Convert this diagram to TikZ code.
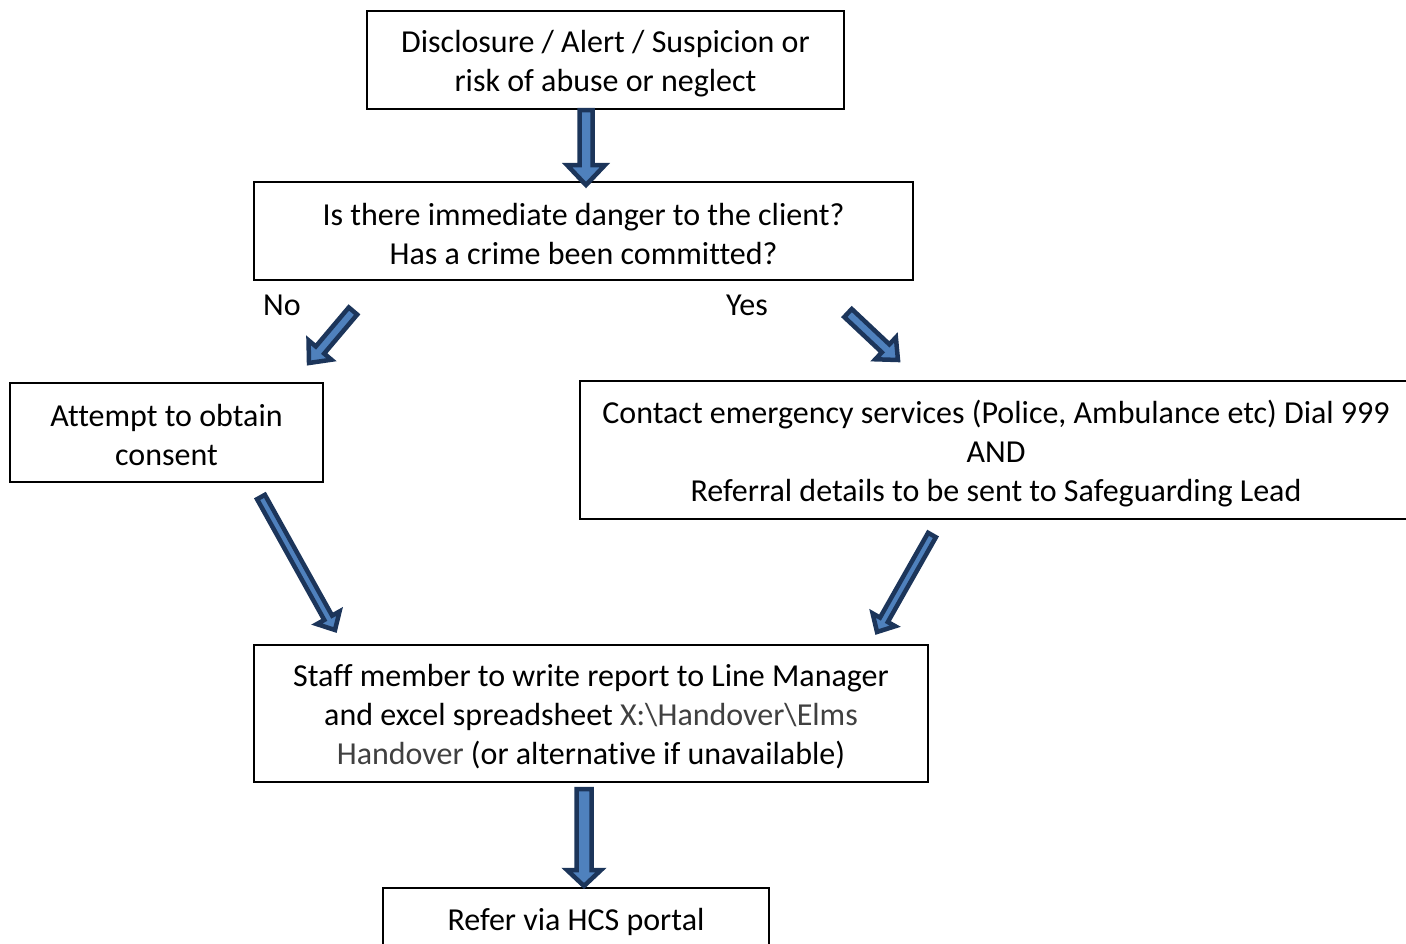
\documentclass[tikz,border=0pt]{standalone}
\usepackage{fontspec}
\setmainfont{Carlito}[Ligatures={NoCommon}]
\usetikzlibrary{calc}
\definecolor{arrline}{HTML}{1C355A}
\definecolor{arrfill}{HTML}{4F81BD}
\definecolor{pathgray}{HTML}{404040}
\tikzset{
  box/.style={draw, line width=1.5pt, inner sep=0pt},
  txt/.style={align=center, inner sep=0pt, font=\fontsize{32}{39}\selectfont},
  lbl/.style={inner sep=0pt, font=\fontsize{32}{39}\selectfont},
  blockarrow/.style={draw=arrline, fill=arrfill, line width=4.5pt, line join=miter}
}
\newcommand\blockarr[5]{%
  \path (#1); \pgfgetlastxy{\bax}{\bay}%
  \path (#2); \pgfgetlastxy{\bbx}{\bby}%
  \pgfmathsetmacro\bang{atan2(\bby-\bay,\bbx-\bax)}%
  \pgfmathsetmacro\blen{veclen(\bbx-\bax,\bby-\bay)}%
  \pgfmathsetmacro\bsh{\blen-#5}%
  \draw[blockarrow,shift={(\bax,\bay)},rotate=\bang]
    (0pt,-#3pt) -- (\bsh pt,-#3pt) -- (\bsh pt,-#4pt) -- (\blen pt,0pt)
    -- (\bsh pt,#4pt) -- (\bsh pt,#3pt) -- (0pt,#3pt) -- cycle;
}
\begin{document}
\begin{tikzpicture}[x=1pt,y=-1pt]
\useasboundingbox (0,0) rectangle (1406,943);
\clip (0,0) rectangle (1406,943);

\node[box, minimum width=477pt, minimum height=98pt] (n1) at (605.5,60) {};
\node[txt] (n1t) at (605.5,64)
  {Disclosure / Alert / Suspicion or\\risk of abuse or neglect};
\node[box, minimum width=659pt, minimum height=98pt] (n2) at (583.5,231) {};
\node[txt] (n2t) at (583.5,234)
  {Is there immediate danger to the client?\\Has a crime been committed?};
\node[box, minimum width=313pt, minimum height=99pt] (n3) at (166.5,432.5) {};
\node[txt] (n3t) at (166.5,435)
  {Attempt to obtain\\consent};
\node[box, minimum width=832pt, minimum height=138pt] (n4) at (996,450) {};
\node[txt] (n4t) at (996,454)
  {Contact emergency services (Police, Ambulance etc) Dial 999\\AND\\Referral details to be sent to Safeguarding Lead};
\node[box, minimum width=674pt, minimum height=137pt] (n5) at (591,713.5) {};
\node[txt] (n5t) at (591,717)
  {Staff member to write report to Line Manager\\and excel spreadsheet \textcolor{pathgray}{X:\textbackslash Handover\textbackslash Elms}\\\textcolor{pathgray}{Handover} (or alternative if unavailable)};
\node[box, minimum width=386pt, minimum height=64pt] (n6) at (576,920) {};
\node[txt] (n6t) at (576,922) {Refer via HCS portal};

\node[lbl] (no) at (282,305) {No};
\node[lbl] (yes) at (747,305) {Yes};

\coordinate (a1s) at (586,110);
\coordinate (a1e) at (586,185);
\coordinate (a2s) at (353,311);
\coordinate (a2e) at (309,363);
\coordinate (a3s) at (848,313);
\coordinate (a3e) at (898,360);
\coordinate (a4s) at (261,497);
\coordinate (a4e) at (335,630);
\coordinate (a5s) at (932,535);
\coordinate (a5e) at (877,632);
\coordinate (a6s) at (584,789);
\coordinate (a6e) at (584,886);

\blockarr{a1s}{a1e}{6.5}{19}{20}
\blockarr{a2s}{a2e}{5.5}{15}{17}
\blockarr{a3s}{a3e}{5.5}{15}{17}
\blockarr{a4s}{a4e}{4.5}{13}{14}
\blockarr{a5s}{a5e}{4.5}{13}{14}
\blockarr{a6s}{a6e}{7.5}{17}{16}
\end{tikzpicture}
\end{document}
